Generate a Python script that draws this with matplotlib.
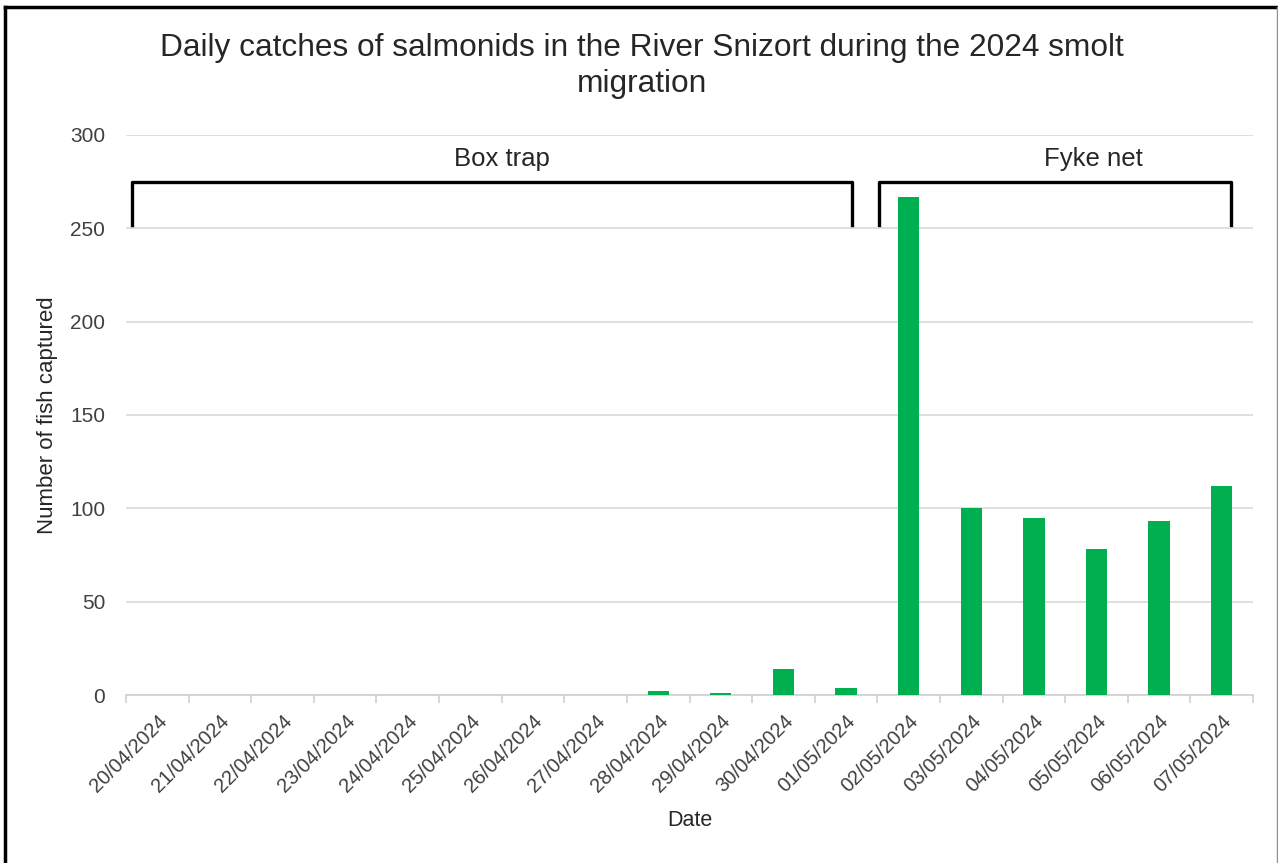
import matplotlib.pyplot as plt
from matplotlib.lines import Line2D

plt.rcParams['font.family'] = ['Liberation Sans', 'DejaVu Sans']

dates = ['20/04/2024', '21/04/2024', '22/04/2024', '23/04/2024', '24/04/2024',
         '25/04/2024', '26/04/2024', '27/04/2024', '28/04/2024', '29/04/2024',
         '30/04/2024', '01/05/2024', '02/05/2024', '03/05/2024', '04/05/2024',
         '05/05/2024', '06/05/2024', '07/05/2024']
catches = [0, 0, 0, 0, 0, 0, 0, 0, 2, 1, 14, 4, 267, 100, 95, 78, 93, 112]

# trap periods: label, first and last day index
methods = ['Box trap', 'Fyke net']
method_start = [0, 12]
method_end = [11, 17]

fig = plt.figure(figsize=(12.78, 8.63), dpi=100)
ax = fig.add_axes([126 / 1278, 1 - 695 / 863, (1253 - 126) / 1278, (695 - 135) / 863])

x = list(range(len(dates)))
ax.bar(x, catches, width=0.34, color='#00b050', zorder=3)

ax.set_xlim(-0.5, len(dates) - 0.5)
ax.set_ylim(0, 300)
ax.set_yticks(range(0, 301, 50))
ax.grid(axis='y', color='#d9d9d9', linewidth=1.2, zorder=0)

ax.set_xticks(x)
ax.set_xticklabels(dates, rotation=45, ha='right', rotation_mode='anchor', fontsize=14.5, color='#404040')
ax.set_xticks([i - 0.5 for i in range(len(dates) + 1)], minor=True)
ax.tick_params(axis='x', which='major', length=0, pad=12)
ax.tick_params(axis='x', which='minor', length=6, color='#d0d0d0', width=1.2)
ax.tick_params(axis='y', length=0, labelsize=15, labelcolor='#404040', pad=15)

for s in ['top', 'right', 'left']:
    ax.spines[s].set_visible(False)
ax.spines['bottom'].set_color('#d0d0d0')
ax.spines['bottom'].set_linewidth(1.2)

ax.set_xlabel('Date', fontsize=15.5, color='#262626', labelpad=10)
ax.set_ylabel('Number of fish captured', fontsize=16, color='#262626', labelpad=9)

# brackets over each trap period
label_x = [5.5, 14.95]
for name, a, b, lx in zip(methods, method_start, method_end, label_x):
    if a == 0:
        left, right = a - 0.4, b + 0.1
    else:
        left, right = a - 0.47, b + 0.15
    ax.plot([left, left, right, right], [252, 275, 275, 252], color='black',
            linewidth=2.4, solid_joinstyle='round', clip_on=False, zorder=4)
    ax.text(lx, 287, name, ha='center', va='center', fontsize=18.5, color='#262626')

fig.text(0.502, 1 - 66 / 863, 'Daily catches of salmonids in the River Snizort during the 2024 smolt\nmigration',
         ha='center', va='center', fontsize=22.8, color='#262626', linespacing=1.25)

# outer frame
fig.add_artist(Line2D([5 / 1278, 5 / 1278], [0, 1 - 7 / 863], color='black', linewidth=2.5, transform=fig.transFigure))
fig.add_artist(Line2D([5 / 1278, 1], [1 - 7 / 863, 1 - 7 / 863], color='black', linewidth=2.5, transform=fig.transFigure))
fig.add_artist(Line2D([1277 / 1278, 1277 / 1278], [0, 1 - 7 / 863], color='#909090', linewidth=1, transform=fig.transFigure))

fig.savefig('out.png', dpi=100)
